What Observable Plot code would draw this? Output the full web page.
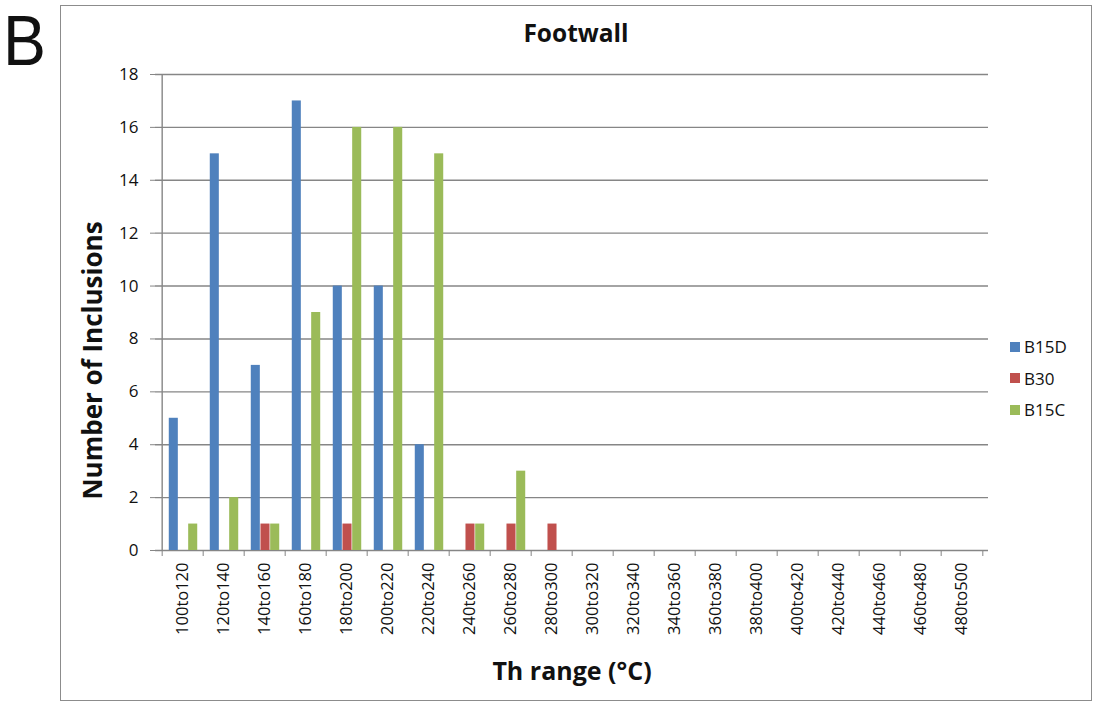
<!DOCTYPE html>
<html>
<head>
<meta charset="utf-8">
<script src="https://cdn.jsdelivr.net/npm/d3@7"></script>
<script src="https://cdn.jsdelivr.net/npm/@observablehq/plot@0.6"></script>
<style>
  html, body { margin: 0; padding: 0; background: #fff; }
  #wrap { position: relative; width: 1094px; height: 708px; font-family: "Open Sans", sans-serif; }
  #border { position: absolute; left: 60px; top: 5px; width: 1032px; height: 696px; border: 1.5px solid #8c8c8c; box-sizing: border-box; }
  #letter { position: absolute; left: 3px; top: 1px; font-size: 70px; line-height: normal; font-family: "Liberation Sans", sans-serif; color: #111; transform: scaleX(0.92); transform-origin: left top; }
  #title { position: absolute; left: 0; width: 1152px; top: 16px; text-align: center; font-size: 24.5px; font-weight: bold; color: #111; font-family: "Open Sans", sans-serif; }
  #legend { position: absolute; left: 1010px; top: 331px; font-size: 17px; color: #111; }
  #legend .item { display: flex; align-items: center; height: 31.5px; }
  #legend .sw { width: 10px; height: 10px; margin-right: 4px; }
  svg { position: absolute; left: 0; top: 0; }
</style>
</head>
<body>
<div id="wrap">
  <div id="border"></div>
  <div id="letter">B</div>
  <div id="title">Footwall</div>
  <div id="legend"></div>
</div>
<script>
const categories = ["100to120","120to140","140to160","160to180","180to200","200to220","220to240","240to260","260to280","280to300","300to320","320to340","340to360","360to380","380to400","400to420","420to440","440to460","460to480","480to500"];
const seriesNames = ["B15D", "B30", "B15C"];
const seriesColors = ["#4F81BD", "#C0504D", "#9BBB59"];
const B15D = [5, 15, 7, 17, 10, 10, 4, 0, 0, 0, 0, 0, 0, 0, 0, 0, 0, 0, 0, 0];
const B30  = [0, 0, 1, 0, 1, 0, 0, 1, 1, 1, 0, 0, 0, 0, 0, 0, 0, 0, 0, 0];
const B15C = [1, 2, 1, 9, 16, 16, 15, 1, 3, 0, 0, 0, 0, 0, 0, 0, 0, 0, 0, 0];
const yTicks = [0, 2, 4, 6, 8, 10, 12, 14, 16, 18];
const xTitle = "Th range (°C)";
const yTitle = "Number of Inclusions";

const seriesValues = [B15D, B30, B15C];
const rows = seriesNames.map((s, i) => categories.map((c, j) => ({cat: c, series: s, value: seriesValues[i][j]})));

const W = 1094, H = 708;
const mL = 155, mR = 106, mT = 74, mB = 158;
const bw = (W - mL - mR) / categories.length;
const barW = 9.7;
const groupW = barW * 3;
const gray = "#868686";

const barMarks = rows.map((data, i) => {
  const left = (bw - groupW) / 2 + i * barW + 0.5;
  return Plot.barY(data.filter(d => d.value > 0), {
    x: "cat", y: "value", fill: seriesColors[i],
    insetLeft: left, insetRight: bw - left - barW
  });
});

const chart = Plot.plot({
  width: W, height: H,
  marginLeft: mL, marginRight: mR, marginTop: mT, marginBottom: mB,
  style: {fontFamily: "Open Sans, sans-serif", color: "#111", background: "transparent"},
  x: {domain: categories, padding: 0},
  y: {domain: [0, 18]},
  marks: [
    Plot.gridY(yTicks, {stroke: gray, strokeOpacity: 1, strokeWidth: 1.4}),
    ...barMarks,
    Plot.ruleX([categories[0]], {dx: -bw / 2, stroke: gray, strokeWidth: 1.4}),
    Plot.axisY(yTicks, {tickSize: 5, tickPadding: 12, stroke: gray, fill: "#111", fontSize: 17, label: null}),
    Plot.axisX(categories, {dx: -bw / 2, tickSize: 6, stroke: gray, tickFormat: () => "", label: null}),
    Plot.axisX([categories[categories.length - 1]], {dx: bw / 2, tickSize: 6, stroke: gray, tickFormat: () => "", label: null}),
    Plot.axisX(categories, {tickSize: 0, tickPadding: 12, tickRotate: -90, fill: "#111", fontSize: 16.5, label: null}),
    Plot.text([xTitle], {text: d => d, frameAnchor: "bottom", dy: 129, fontSize: 25, fontWeight: "bold", fill: "#111"}),
    Plot.text([yTitle], {text: d => d, frameAnchor: "left", textAnchor: "middle", dx: -62, dy: 48, rotate: -90, fontSize: 26, fontWeight: "bold", fill: "#111"})
  ]
});
document.getElementById("wrap").appendChild(chart);

const legend = d3.select("#legend");
seriesNames.forEach((s, i) => {
  const item = legend.append("div").attr("class", "item");
  item.append("div").attr("class", "sw").style("background", seriesColors[i]);
  item.append("span").text(s);
});
</script>
</body>
</html>
